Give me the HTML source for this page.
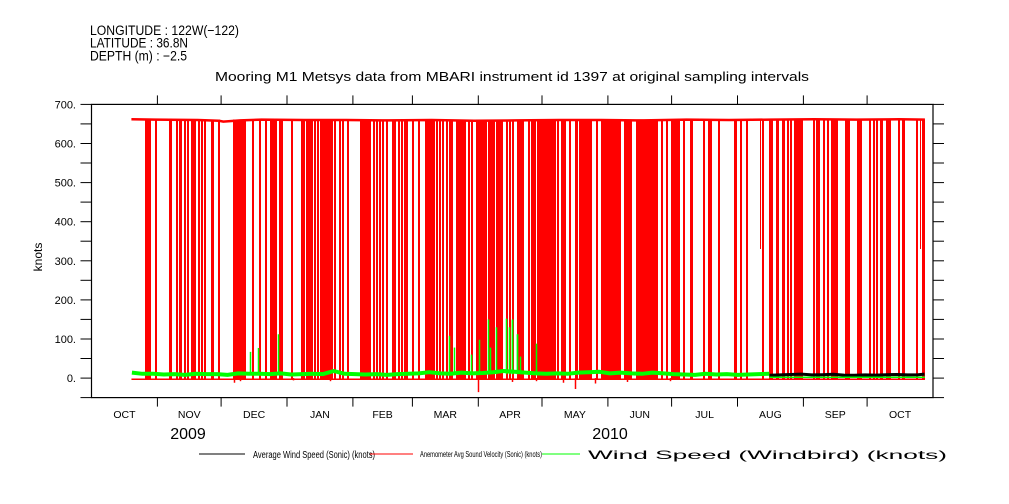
<!DOCTYPE html>
<html><head><meta charset="utf-8"><style>
html,body{margin:0;padding:0;background:#fff;}
svg{display:block;font-family:"Liberation Sans",sans-serif;}
</style></head><body>
<svg id="chart" width="1009" height="504" viewBox="0 0 1009 504" xmlns="http://www.w3.org/2000/svg">
<g font-size="13.5" fill="#000">
<text x="90" y="35" textLength="149" lengthAdjust="spacingAndGlyphs">LONGITUDE : 122W(−122)</text>
<text x="90" y="47.5" textLength="98" lengthAdjust="spacingAndGlyphs">LATITUDE : 36.8N</text>
<text x="90" y="60.5" textLength="97" lengthAdjust="spacingAndGlyphs">DEPTH (m) : −2.5</text>
</g>
<text x="215" y="81" font-size="13" textLength="594" lengthAdjust="spacingAndGlyphs">Mooring M1 Metsys data from MBARI instrument id 1397 at original sampling intervals</text>
<text transform="translate(42,257) rotate(-90)" font-size="12" text-anchor="middle">knots</text>
<g id="plot"></g>
<g id="axes"></g>
<g>
<line x1="199" y1="454" x2="245" y2="454" stroke="#000" stroke-width="1"/>
<text x="253" y="458" font-size="10" textLength="122" lengthAdjust="spacingAndGlyphs">Average Wind Speed (Sonic) (knots)</text>
<line x1="370" y1="454" x2="413" y2="454" stroke="#f00" stroke-width="1"/>
<text x="420" y="457" font-size="8" textLength="122" lengthAdjust="spacingAndGlyphs">Anemometer Avg Sound Velocity (Sonic) (knots)</text>
<line x1="542" y1="454" x2="580" y2="454" stroke="#0f0" stroke-width="1"/>
<text x="588" y="459" font-size="12" textLength="359" lengthAdjust="spacingAndGlyphs">Wind Speed (Windbird) (knots)</text>
</g>
</svg>
<script>
// ---- data (days since 2009-10-01) ----
const monthLabels = ["OCT","NOV","DEC","JAN","FEB","MAR","APR","MAY","JUN","JUL","AUG","SEP","OCT"];
const monthStarts = [0,31,61,92,123,151,182,212,243,273,304,335,365,396];
const yTicks = [-50,0,50,100,150,200,250,300,350,400,450,500,550,600,650,700];
const yLabels = [0,100,200,300,400,500,600,700];
const startDay = 18.8, endDay = 392.2;
const redTopDays = [18.8,30,50,60,62,70,80,100,120,140,160,180,200,220,240,260,280,300,320,340,360,380,392.2];
const redTopVals = [662,661,660,658,656,659,661,660,660,659,660,658,659,660,660,659,661,660,661,662,661,662,661];
const redDrops = [[25,27.8],[30.1,30.6],[36.3,37.5],[39.9,40.3],[41.1,42.7],[43.5,43.9],[45,45.4],[46.6,47],[47.4,49.3],[50.1,50.5],[51.3,51.7],[52.9,53.3],[56.4,57.9],[59.5,59.9],[66.5,72.8],[75.3,75.7],[78.8,79.2],[81.8,82.5],[83.9,84.3],[84.9,85.3],[85.8,86.1],[86.5,86.9],[88,88.4],[89.3,89.7],[93.8,94.2],[98.5,98.9],[99.5,99.9],[100.8,101.2],[101.7,102],[102.6,103],[103.4,103.8],[104.5,104.9],[106.3,106.7],[107.3,113.3],[114.1,114.5],[116.4,116.8],[118,118.4],[120.4,120.8],[126.2,131.2],[132.4,132.8],[133.7,134.1],[135.3,135.7],[136.9,137.3],[138.4,138.8],[141.4,143.1],[144.2,144.6],[145.8,146.2],[147,147.4],[148.2,148.6],[150.7,151.1],[153.6,154],[156.8,161.5],[162.3,162.7],[163.5,163.9],[164.8,165.2],[166.7,167.1],[168.3,168.7],[169.3,169.7],[171.7,176.4],[177.2,177.6],[178.8,179.2],[180.8,185.8],[186.6,189.7],[190.5,193.6],[194.9,195.3],[196.5,196.9],[198.1,198.5],[200,203.4],[205.4,205.8],[206.7,207.1],[207.8,209],[209.6,218.5],[219.1,219.5],[221.1,223.5],[224.7,225.5],[227.4,227.8],[228.2,228.6],[229.3,235.3],[237.3,237.7],[239.6,249.1],[250.6,251],[251.7,254.5],[256.1,266.6],[268.2,268.6],[270.2,270.6],[272.6,276.8],[278.4,278.8],[281.5,281.9],[282.3,282.7],[287.8,288.3],[290.2,292.2],[294.6,295],[302.4,304],[305.4,305.8],[307.9,309],[315.3,315.7],[318.9,320.8],[321.9,323.3],[325.1,326.3],[327.5,327.9],[328.6,329],[330.5,330.9],[331.5,334.6],[339.3,339.7],[340.9,341.3],[341.9,342.3],[344.3,344.7],[346.2,346.6],[348.2,351.3],[354.5,356.9],[360,362.4],[365.8,366.2],[367.8,368.2],[369.4,369.8],[371,372.3],[373.7,376.2],[379.3,379.7],[381.4,382.8],[388,389.1],[390.9,392.2]];
const redPartialDays = [48.6,101.3,103.2,172.3,207.4,262.3,314.5,326,389.8];
const redPartialVals = [328,330,330,330,330,330,330,330,330];
const redNegDays = [67,70,95,112,181.9,198,209,222,227.4,237,252,272];
const redNegVals = [-12,-8,-6,-8,-36,-10,-8,-12,-28,-14,-10,-8];
const greenDays = [19,24,29,34,39,44,49,54,59,64,69,74,79,84,89,94,99,104,109,114,119,124,129,134,139,144,149,154,159,164,169,174,179,184,189,194,199,204,209,214,219,224,229,234,239,244,249,254,259,264,269,274,279,284,289,294,299,304,309,314,319];
const greenVals = [14,11,11,9,10,8,11,10,10,8,12,11,11,10,12,9,10,11,10,18,11,10,9,10,8,10,11,12,15,12,11,14,12,13,15,18,16,14,12,11,12,11,14,15,16,12,14,12,11,14,12,10,9,8,11,9,10,8,9,10,11];
const greenSpikeDays = [74.7,78.3,87.7,168.2,170.6,178.8,182.4,186.6,187.4,190.5,195.2,196.5,197.9,198.1,200.2,200.4,201.5,209];
const greenSpikeVals = [67,77,112,108,78,60,98,150,78,130,152,130,150,148,112,112,55,88];
const blackDays = [319,324,329,334,339,344,349,354,359,364,369,374,379,384,389,392];
const blackVals = [10,12,14,16,12,13,15,11,10,12,11,13,14,12,13,16];

// ---- scales ----
const X0=91.5, X1=933, Y0=397.6, Y1=104.4, DMIN=0, DMAX=396, VMIN=-50, VMAX=700;
const xs = d => X0 + (d-DMIN)/(DMAX-DMIN)*(X1-X0);
const ys = v => Y0 - (v-VMIN)/(VMAX-VMIN)*(Y0-Y1);
const NS="http://www.w3.org/2000/svg";
function mk(tag, attrs, parent){const e=document.createElementNS(NS,tag);for(const k in attrs)e.setAttribute(k,attrs[k]);parent.appendChild(e);return e;}
const plot=document.getElementById('plot'), axes=document.getElementById('axes');

let pts=[];
for(let i=0;i<redTopDays.length;i++){pts.push(xs(redTopDays[i]).toFixed(1)+","+ys(redTopVals[i]).toFixed(1));}
let rl=mk('polyline',{points:pts.join(' '),fill:'none',stroke:'#f00','stroke-width':2.5},plot);


let rb=mk('line',{x1:xs(startDay),x2:xs(endDay),y1:ys(-3),y2:ys(-3),stroke:'#f00','stroke-width':1.5},plot);


redDrops.forEach(d=>{
  const x=Math.round(xs(d[0])), w=Math.max(2,Math.round(xs(d[1])-xs(d[0])));
  const r=mk('rect',{x:x,y:ys(661).toFixed(1),width:w,height:(ys(-4)-ys(661)).toFixed(1),fill:'#f00','shape-rendering':'crispEdges'},plot);
  
  
});
redPartialDays.forEach((d,i)=>{
  const x=Math.round(xs(d))+0.5;
  const r=mk('line',{x1:x,x2:x,y1:ys(661),y2:ys(redPartialVals[i]),stroke:'#f00','stroke-width':1,'shape-rendering':'crispEdges'},plot);
  
  
});
redNegDays.forEach((d,i)=>{
  const x=Math.round(xs(d))+0.5;
  const r=mk('line',{x1:x,x2:x,y1:ys(0),y2:ys(redNegVals[i]),stroke:'#f00','stroke-width':1.5},plot);
  
  
});
pts=[];
for(let i=0;i<blackDays.length;i++){pts.push(xs(blackDays[i]).toFixed(1)+","+ys(blackVals[i]/2+2).toFixed(1));}
let bl=mk('polyline',{points:pts.join(' '),fill:'none',stroke:'#000','stroke-width':3},plot);


pts=[];
for(let i=0;i<greenDays.length;i++){pts.push(xs(greenDays[i]).toFixed(1)+","+ys(greenVals[i]).toFixed(1));}
let gl=mk('polyline',{points:pts.join(' '),fill:'none',stroke:'#0f0','stroke-width':4,'stroke-linejoin':'round'},plot);


let gf=mk('line',{x1:xs(319),x2:xs(endDay),y1:ys(2),y2:ys(2),stroke:'#0f0','stroke-width':1.5},plot);


greenSpikeDays.forEach((d,i)=>{
  const x=Math.round(xs(d))+0.5;
  const r=mk('line',{x1:x,x2:x,y1:ys(10),y2:ys(greenSpikeVals[i]),stroke:'#0f0','stroke-width':1.5},plot);
  
  
});

let fr=mk('rect',{x:X0,y:Y1,width:X1-X0,height:Y0-Y1,fill:'none',stroke:'#000','stroke-width':1.2},axes);


yTicks.forEach(v=>{
  const y=ys(v).toFixed(1);
  let t=mk('line',{x1:X0-11,x2:X0,y1:y,y2:y,stroke:'#000','stroke-width':1},axes);
  
  
  let t2=mk('line',{x1:X1,x2:X1+11,y1:y,y2:y,stroke:'#000','stroke-width':1},axes);
  
  
});
yLabels.forEach(v=>{
  let t=mk('text',{x:76,y:(ys(v)+4).toFixed(1),'font-size':11,'text-anchor':'end'},axes);
  t.textContent=v+'.';
  
  
});
monthStarts.forEach((d,i)=>{
  if(i===0||i===monthStarts.length-1)return;
  const x=xs(d).toFixed(1);
  let t=mk('line',{x1:x,x2:x,y1:Y1-9,y2:Y1,stroke:'#000','stroke-width':1},axes);
  
  
  let t2=mk('line',{x1:x,x2:x,y1:Y0,y2:Y0+9,stroke:'#000','stroke-width':1},axes);
  
  
});
monthLabels.forEach((m,i)=>{
  const x=xs((monthStarts[i]+monthStarts[i+1])/2);
  let t=mk('text',{x:x.toFixed(1),y:418,'font-size':10.5,'text-anchor':'middle'},axes);
  t.textContent=m;
  
  
});
[["2009",188],["2010",610]].forEach(p=>{
  let t=mk('text',{x:p[1],y:439,'font-size':16,'text-anchor':'middle'},axes);
  t.textContent=p[0];
  
  
});
</script>
</body></html>
